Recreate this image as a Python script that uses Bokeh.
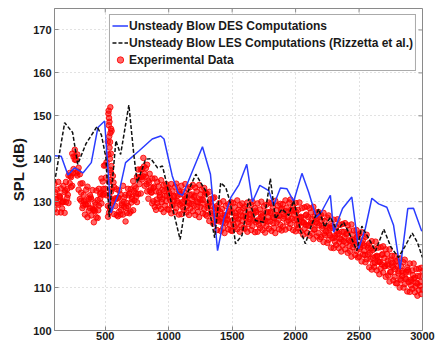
from bokeh.plotting import figure
from bokeh.models import (ColumnDataSource, Legend, LegendItem, LinearAxis,
                          FixedTicker, Range1d)
from bokeh.embed import file_html
from bokeh.resources import INLINE

# ---------------- data ----------------
des_freq = [100, 153, 206, 259, 324, 390, 442, 495, 545, 560, 608, 660, 765,
            870, 937, 963, 1028, 1075, 1109, 1266, 1329, 1385, 1434, 1490,
            1554, 1615, 1660, 1718, 1788, 1827, 1880, 1932, 1985, 2050, 2103,
            2163, 2203, 2274, 2300, 2370, 2443, 2496, 2549, 2601, 2654, 2719,
            2772, 2824, 2884, 2929, 2994]
des_spl = [140.7, 140.6, 136.2, 137.9, 136.7, 139.1, 147.3, 148.8, 127.4, 128.6,
           132.1, 139.1, 141.8, 144.6, 145.3, 144.6, 136.0, 132.0, 131.5, 142.8,
           136.4, 118.6, 126.0, 131.0, 134.0, 138.7, 130.0, 133.8, 132.6, 129.1,
           133.2, 133.0, 130.1, 136.6, 132.2, 126.4, 127.6, 131.5, 122.9, 128.4,
           131.1, 119.0, 123.7, 130.8, 129.5, 128.7, 124.5, 114.3, 128.4, 128.5,
           123.1]

les_freq = [100, 180, 243, 283, 348, 435, 470, 505, 531, 584, 621, 686, 726,
            752, 818, 859, 912, 951, 991, 1030, 1090, 1148, 1214, 1253, 1292,
            1362, 1410, 1450, 1489, 1526, 1578, 1631, 1683, 1749, 1801, 1841,
            1893, 1945, 1985, 2038, 2077, 2129, 2182, 2229, 2274, 2326, 2378,
            2431, 2483, 2522, 2575, 2630, 2695, 2750, 2810, 2860, 2919, 2960,
            3000]
les_spl = [134.4, 148.4, 146.1, 138.7, 143.5, 147.5, 145.5, 140.3, 126.4, 144.2,
           141.0, 152.5, 140.7, 134.4, 139.9, 140.0, 137.9, 138.3, 133.3, 128.6,
           121.2, 132.1, 136.4, 134.4, 132.5, 121.6, 134.4, 133.3, 129.4, 120.2,
           122.2, 130.7, 125.6, 125.2, 135.4, 126.0, 128.3, 126.8, 130.3, 123.3,
           120.2, 124.9, 128.3, 124.1, 126.4, 123.3, 125.2, 122.1, 118.6, 124.3,
           121.5, 118.5, 123.6, 119.5, 117.0, 119.5, 122.7, 120.5, 117.0]

# experimental data: frequency grid (every 10 Hz) with two measured runs
exp_freq = list(range(100, 3001, 10))
exp_spl_run1 = [
    134.2, 130.5, 132.8, 134.6, 131.2, 133.1, 129.8, 133.7, 132.2, 134.6,
    132.9, 136.1, 136.7, 135.7, 141.2, 140.5, 142.1, 139.7, 141.0, 137.9,
    136.4, 132.1, 134.3, 131.6, 129.4, 132.8, 133.5, 130.7, 131.5, 130.6,
    132.7, 128.0, 129.8, 132.6, 130.4, 133.0, 130.7, 135.4, 134.7, 138.4,
    138.5, 139.2, 144.0, 149.5, 152.0, 146.5, 136.0, 133.4, 130.8, 132.9,
    130.9, 132.6, 131.7, 129.2, 133.7, 131.0, 131.6, 129.7, 133.0, 131.9,
    132.9, 131.1, 134.8, 133.6, 131.9, 135.8, 137.5, 135.7, 137.5, 137.6,
    140.2, 136.5, 137.8, 138.6, 134.9, 136.5, 132.2, 135.4, 133.2, 135.4,
    132.4, 134.6, 133.6, 131.1, 135.0, 132.8, 133.8, 131.4, 134.1, 132.9,
    133.3, 131.0, 134.1, 132.4, 130.2, 133.5, 134.2, 131.4, 132.6, 131.7,
    133.7, 130.0, 132.3, 134.1, 130.9, 133.0, 129.7, 133.4, 131.7, 133.9,
    131.1, 133.3, 132.4, 129.9, 133.9, 131.7, 132.8, 130.4, 133.2, 132.1,
    131.9, 129.6, 132.3, 130.6, 127.9, 130.8, 131.0, 128.2, 129.0, 128.1,
    129.7, 126.0, 128.3, 130.1, 126.9, 129.0, 125.7, 129.4, 127.7, 129.9,
    127.5, 129.7, 128.8, 126.3, 130.3, 128.1, 129.2, 126.8, 129.6, 128.5,
    128.9, 126.6, 129.8, 128.1, 125.9, 129.3, 130.0, 127.2, 128.5, 127.6,
    129.6, 125.9, 128.2, 130.0, 126.8, 128.9, 125.6, 129.3, 127.6, 129.8,
    127.4, 129.6, 128.7, 126.2, 130.2, 128.0, 129.1, 126.7, 129.5, 128.4,
    129.4, 127.1, 130.3, 128.6, 126.4, 129.8, 130.5, 127.7, 129.0, 128.1,
    129.7, 125.9, 128.1, 129.8, 126.5, 128.5, 125.1, 128.7, 126.8, 128.9,
    126.4, 128.5, 127.5, 124.9, 128.8, 126.5, 127.5, 125.0, 127.6, 126.4,
    126.9, 124.4, 127.4, 125.5, 123.1, 126.3, 126.8, 123.8, 124.9, 123.9,
    125.8, 122.0, 124.2, 125.9, 122.6, 124.6, 121.2, 124.8, 123.0, 125.0,
    122.4, 124.5, 123.4, 120.8, 124.7, 122.3, 123.3, 120.7, 123.4, 122.1,
    122.4, 119.9, 122.9, 121.0, 118.6, 121.8, 122.3, 119.3, 120.3, 119.1,
    120.8, 116.9, 119.1, 120.7, 117.4, 119.3, 115.9, 119.4, 117.6, 119.6,
    116.9, 118.9, 117.8, 115.1, 118.9, 116.5, 117.4, 114.8, 117.4, 116.1,
    116.2, 113.8, 116.8, 115.0, 112.7, 115.9, 116.5, 113.6, 114.7, 113.7,
    115.6, 111.8, 114.0, 115.6, 112.3, 114.3, 110.9, 114.4, 112.6, 114.6,
    113.8]
exp_spl_run2 = [
    128.2, 130.6, 127.5, 129.3, 131.4, 127.5, 128.4, 129.9, 127.4, 129.9,
    130.9, 129.7, 134.3, 133.4, 133.7, 137.6, 139.8, 136.6, 136.1, 132.8,
    130.6, 130.2, 128.5, 130.1, 127.0, 129.3, 126.4, 127.9, 128.5, 126.8,
    128.4, 125.2, 127.8, 126.4, 126.2, 129.1, 131.8, 129.6, 131.6, 131.8,
    133.0, 131.5, 129.0, 127.5, 128.2, 133.0, 130.2, 127.1, 129.0, 126.9,
    126.6, 127.7, 127.0, 129.6, 127.0, 128.8, 125.4, 127.4, 129.0, 127.3,
    127.7, 130.6, 128.0, 130.3, 133.1, 129.9, 131.8, 134.1, 131.9, 135.2,
    135.9, 133.7, 135.8, 132.4, 130.7, 132.6, 133.3, 129.6, 130.1, 128.8,
    128.1, 129.7, 128.9, 131.5, 128.3, 130.6, 127.6, 129.1, 130.1, 128.3,
    128.1, 130.5, 127.3, 129.1, 131.4, 127.6, 128.5, 129.8, 127.0, 129.3,
    127.1, 128.7, 128.0, 130.6, 127.5, 129.8, 126.9, 128.4, 129.5, 127.8,
    129.1, 126.9, 130.0, 127.6, 126.4, 128.8, 130.5, 127.3, 128.3, 127.0,
    126.7, 129.1, 125.5, 127.3, 129.1, 124.9, 125.3, 126.6, 123.4, 125.7,
    125.4, 123.2, 126.3, 123.9, 122.7, 125.1, 126.8, 123.6, 124.6, 123.3,
    123.2, 124.8, 124.1, 126.7, 123.6, 125.9, 123.0, 124.5, 125.6, 123.9,
    123.7, 126.1, 123.0, 124.8, 127.1, 123.4, 124.3, 125.6, 122.9, 125.2,
    123.0, 124.6, 123.9, 126.5, 123.4, 125.7, 122.8, 124.3, 125.4, 123.7,
    125.4, 123.2, 126.3, 123.9, 122.7, 125.1, 126.8, 123.6, 124.6, 123.3,
    124.2, 126.6, 123.5, 125.3, 127.6, 123.9, 124.8, 126.1, 123.4, 125.7,
    123.1, 124.6, 123.8, 126.3, 123.1, 125.3, 122.3, 123.7, 124.6, 122.8,
    124.4, 122.1, 125.1, 122.6, 121.3, 123.6, 125.2, 121.9, 122.7, 121.3,
    121.7, 123.9, 120.6, 122.2, 124.3, 120.4, 121.1, 122.2, 119.3, 121.5,
    119.2, 120.7, 119.9, 122.4, 119.2, 121.4, 118.4, 119.8, 120.8, 118.9,
    120.4, 118.1, 121.0, 118.5, 117.2, 119.4, 121.0, 117.6, 118.5, 117.0,
    117.2, 119.4, 116.1, 117.7, 119.8, 115.9, 116.6, 117.7, 114.7, 116.7,
    114.2, 115.6, 114.8, 117.2, 114.0, 116.1, 113.1, 114.4, 115.4, 113.5,
    114.9, 112.5, 115.4, 112.8, 111.4, 113.6, 115.1, 111.7, 112.5, 111.0,
    111.0, 113.3, 110.0, 111.7, 113.9, 110.0, 110.8, 112.0, 109.1, 111.3,
    109.0, 110.5, 109.7, 112.1, 108.9, 111.1, 108.1, 109.4, 110.4, 108.5,
    109.5]

# third run on an offset 20 Hz grid
exp_freq_run3 = list(range(105, 3000, 20))
exp_spl_run3 = [
    132.2, 129.6, 131.0, 130.1, 132.6,
    131.6, 136.0, 136.7, 140.6, 137.0,
    134.2, 129.1, 130.3, 129.4, 131.0,
    128.1, 129.3, 128.0, 132.1, 133.0,
    135.6, 141.0, 147.0, 134.5, 130.6,
    130.9, 128.1, 130.0, 128.6, 131.5,
    129.8, 132.5, 131.2, 135.6, 135.7,
    138.2, 134.1, 134.5, 132.1, 133.5,
    130.5, 132.2, 129.9, 132.5, 131.4,
    132.0, 129.4, 131.1, 130.2, 132.3,
    129.6, 131.3, 129.0, 131.6, 130.5,
    131.4, 128.8, 130.5, 129.6, 131.7,
    128.6, 129.8, 126.7, 128.6, 127.0,
    127.7, 125.1, 126.8, 125.9, 128.0,
    125.7, 127.4, 125.1, 127.7, 126.6,
    127.5, 125.3, 126.9, 125.8, 127.9,
    125.5, 127.2, 124.9, 127.5, 126.4,
    127.7, 125.0, 126.9, 125.8, 128.1,
    126.1, 127.8, 125.6, 128.1, 127.0,
    127.6, 124.8, 126.3, 125.2, 127.0,
    124.5, 126.0, 123.5, 125.9, 124.5,
    125.6, 122.6, 123.9, 122.6, 124.3,
    121.6, 123.1, 120.6, 123.0, 121.7,
    122.6, 119.7, 121.2, 120.0, 121.8,
    119.0, 120.3, 117.6, 119.8, 118.1,
    118.7, 115.8, 117.2, 116.0, 117.8,
    115.0, 116.3, 113.6, 115.8, 114.3,
    114.9, 112.0, 113.5, 112.3, 114.1,
    111.4, 112.9, 110.3, 112.7, 111.3]

# dense cluster of the tonal peak near 540 Hz
peak_freq = [525, 528, 531, 534, 537, 540, 543, 546, 549, 522,
             527, 533, 538, 544, 548, 530, 536, 541, 545, 535]
peak_spl = [150.5, 147.8, 145.2, 142.6, 140.0, 137.4, 135.1, 132.3, 129.8, 126.5,
            151.2, 148.6, 143.9, 141.2, 138.3, 134.6, 131.0, 146.0, 136.8, 128.7]

x_ticks = [500, 1000, 1500, 2000, 2500, 3000]
y_ticks = [100, 110, 120, 130, 140, 150, 160, 170]
x_lim = (100, 3000)
y_lim = (100, 175)

# ---------------- figure ----------------
FONT = "Liberation Sans"
AX_COL = "#8a8a8a"
TXT_COL = "#1a1a1a"

p = figure(width=437, height=342, output_backend="svg", toolbar_location=None,
           x_range=Range1d(*x_lim), y_range=Range1d(*y_lim),
           x_axis_location=None, y_axis_location=None,
           min_border_left=54, min_border_right=15, min_border_top=8,
           min_border_bottom=0)
p.background_fill_color = "white"
p.border_fill_color = "white"
p.outline_line_color = AX_COL
p.outline_line_width = 1


def style_axis(ax, ticks):
    ax.ticker = FixedTicker(ticks=ticks)
    ax.axis_line_color = AX_COL
    ax.major_tick_line_color = AX_COL
    ax.major_tick_in = 4
    ax.major_tick_out = 0
    ax.minor_tick_line_color = None
    ax.major_label_text_font = FONT
    ax.major_label_text_font_style = "bold"
    ax.major_label_text_color = TXT_COL
    ax.major_label_text_font_size = "11px"
    ax.major_label_standoff = 3


xb = LinearAxis()
style_axis(xb, x_ticks)
xb.major_label_standoff = 1
p.add_layout(xb, "below")

yl = LinearAxis(axis_label="SPL (dB)")
style_axis(yl, y_ticks)
yl.axis_label_text_font = FONT
yl.axis_label_text_font_style = "bold"
yl.axis_label_text_font_size = "15px"
yl.axis_label_text_color = TXT_COL
yl.axis_label_standoff = 3
p.add_layout(yl, "left")

# inward tick marks on the top and right frame edges (MATLAB box style)
tick_len_x = (x_lim[1] - x_lim[0]) * 4 / 368
tick_len_y = (y_lim[1] - y_lim[0]) * 4 / 321
p.segment(x0=x_ticks, x1=x_ticks, y0=[y_lim[1]] * len(x_ticks),
          y1=[y_lim[1] - tick_len_y] * len(x_ticks), line_color=AX_COL,
          line_width=1)
p.segment(x0=[x_lim[1]] * len(y_ticks), x1=[x_lim[1] - tick_len_x] * len(y_ticks),
          y0=y_ticks, y1=y_ticks, line_color=AX_COL, line_width=1)

p.xgrid.ticker = FixedTicker(ticks=x_ticks)
p.ygrid.ticker = FixedTicker(ticks=y_ticks)
p.grid.grid_line_color = "#c4c4c4"
p.grid.grid_line_dash = "1 3"
p.grid.grid_line_width = 1

# experimental scatter
exp_x = exp_freq + exp_freq + exp_freq_run3 + peak_freq
exp_y = exp_spl_run1 + exp_spl_run2 + exp_spl_run3 + peak_spl
exp_src = ColumnDataSource(dict(x=exp_x, y=exp_y))
r_exp = p.scatter("x", "y", source=exp_src, marker="circle", size=5.5,
                  fill_color="#ff0000", fill_alpha=0.6,
                  line_color="#ff0000", line_alpha=0.85, line_width=1)

des_src = ColumnDataSource(dict(x=des_freq, y=des_spl))
r_des = p.line("x", "y", source=des_src, line_color="#2a3cff", line_width=1.5)

les_src = ColumnDataSource(dict(x=les_freq, y=les_spl))
r_les = p.line("x", "y", source=les_src, line_color="#111111", line_width=1.5,
               line_dash="4 2")

legend = Legend(items=[
    LegendItem(label="Unsteady Blow DES Computations", renderers=[r_des]),
    LegendItem(label="Unsteady Blow LES Computations (Rizzetta et al.)", renderers=[r_les]),
    LegendItem(label="Experimental Data", renderers=[r_exp]),
], location="top_right")
legend.margin = 6
legend.padding = 2
legend.spacing = 0
legend.label_height = 17
legend.glyph_height = 17
legend.glyph_width = 16
legend.label_standoff = 1
legend.label_text_font = FONT
legend.label_text_font_style = "bold"
legend.label_text_font_size = "12px"
legend.label_text_color = TXT_COL
legend.border_line_color = "#555555"
legend.border_line_width = 1
legend.background_fill_color = "white"
legend.background_fill_alpha = 1.0
p.add_layout(legend, "center")

open("out.html", "w").write(file_html(p, INLINE))
